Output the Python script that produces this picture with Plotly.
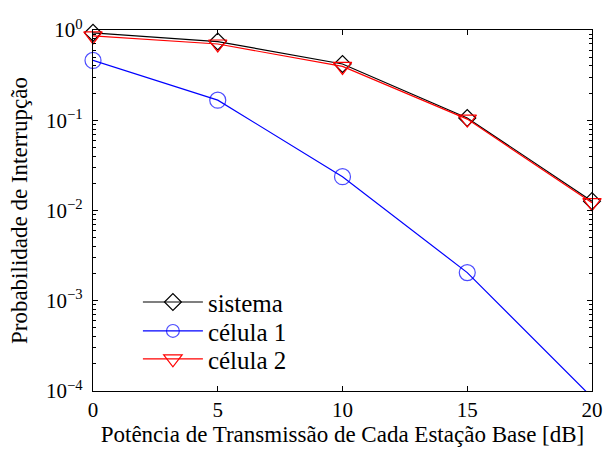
import plotly.graph_objects as go

x_db = [0, 5, 10, 15, 20]
sistema = [0.93, 0.745, 0.42, 0.106, 0.0127]
celula1 = [0.46, 0.167, 0.0237, 0.00205, 0.000085]
celula2 = [0.86, 0.70, 0.395, 0.103, 0.0122]

y_tickvals = [1e-4, 1e-3, 1e-2, 1e-1, 1]
y_ticktext = ["10<sup>\u22124</sup>", "10<sup>\u22123</sup>", "10<sup>\u22122</sup>",
              "10<sup>\u22121</sup>", "10<sup>0</sup>"]

FONT = "Liberation Serif, Times New Roman, serif"

fig = go.Figure()
fig.add_trace(go.Scatter(
    x=x_db, y=sistema, mode="lines+markers", name="sistema", legend="legend",
    line=dict(color="black", width=1.2),
    marker=dict(symbol="diamond-open", size=13, color="black", line=dict(width=1.2)),
    cliponaxis=False))
fig.add_trace(go.Scatter(
    x=x_db, y=celula1, mode="lines+markers", name="célula 1", legend="legend2",
    line=dict(color="#0000ff", width=1.2),
    marker=dict(symbol="circle-open", size=[16, 16, 16, 16, 0], color="#0000ff", line=dict(width=1.2)),
    cliponaxis=False))
fig.add_trace(go.Scatter(
    x=x_db, y=celula2, mode="lines+markers", name="célula 2", legend="legend3",
    line=dict(color="#ff0000", width=1.2),
    marker=dict(symbol="triangle-down-open", size=16, color="#ff0000", line=dict(width=1.2)),
    cliponaxis=False))

plot_h = 452 - 30 - 60


def leg(yc):
    return dict(x=0.09, y=(392 - yc) / plot_h, xanchor="left", yanchor="middle",
                bgcolor="rgba(0,0,0,0)", borderwidth=0,
                font=dict(family=FONT, size=25), itemwidth=60)


fig.update_layout(
    width=615, height=452,
    margin=dict(l=93, r=13, t=30, b=60),
    paper_bgcolor="white", plot_bgcolor="white",
    font=dict(family=FONT, size=21, color="black"),
    showlegend=True,
    legend=leg(303), legend2=leg(332), legend3=leg(360),
    xaxis=dict(range=[0, 20], tickvals=[0, 5, 10, 15, 20],
               ticks="inside", ticklen=5, tickcolor="black",
               showline=True, linecolor="black", linewidth=1.2, mirror="ticks",
               showgrid=False, zeroline=False,
               tickfont=dict(family=FONT, size=21),
               title=dict(text="Potência de Transmissão de Cada Estação Base [dB]",
                          font=dict(family=FONT, size=23), standoff=2)),
    yaxis=dict(type="log", range=[-4, 0], tickvals=y_tickvals, ticktext=y_ticktext,
               ticks="inside", ticklen=5, tickcolor="black",
               showline=True, linecolor="black", linewidth=1.2, mirror="ticks",
               showgrid=False, zeroline=False, ticklabelstandoff=5,
               minor=dict(ticks="inside", ticklen=3, tickcolor="black", dtick="D1", showgrid=False),
               tickfont=dict(family=FONT, size=21)),
    annotations=[dict(text="Probabilidade de Interrupção", textangle=-90,
                      xref="paper", yref="paper", x=-(93 - 18) / 509.5, y=0.5,
                      xanchor="center", yanchor="middle", showarrow=False,
                      font=dict(family=FONT, size=23))],
)

fig.write_html("out.html")
